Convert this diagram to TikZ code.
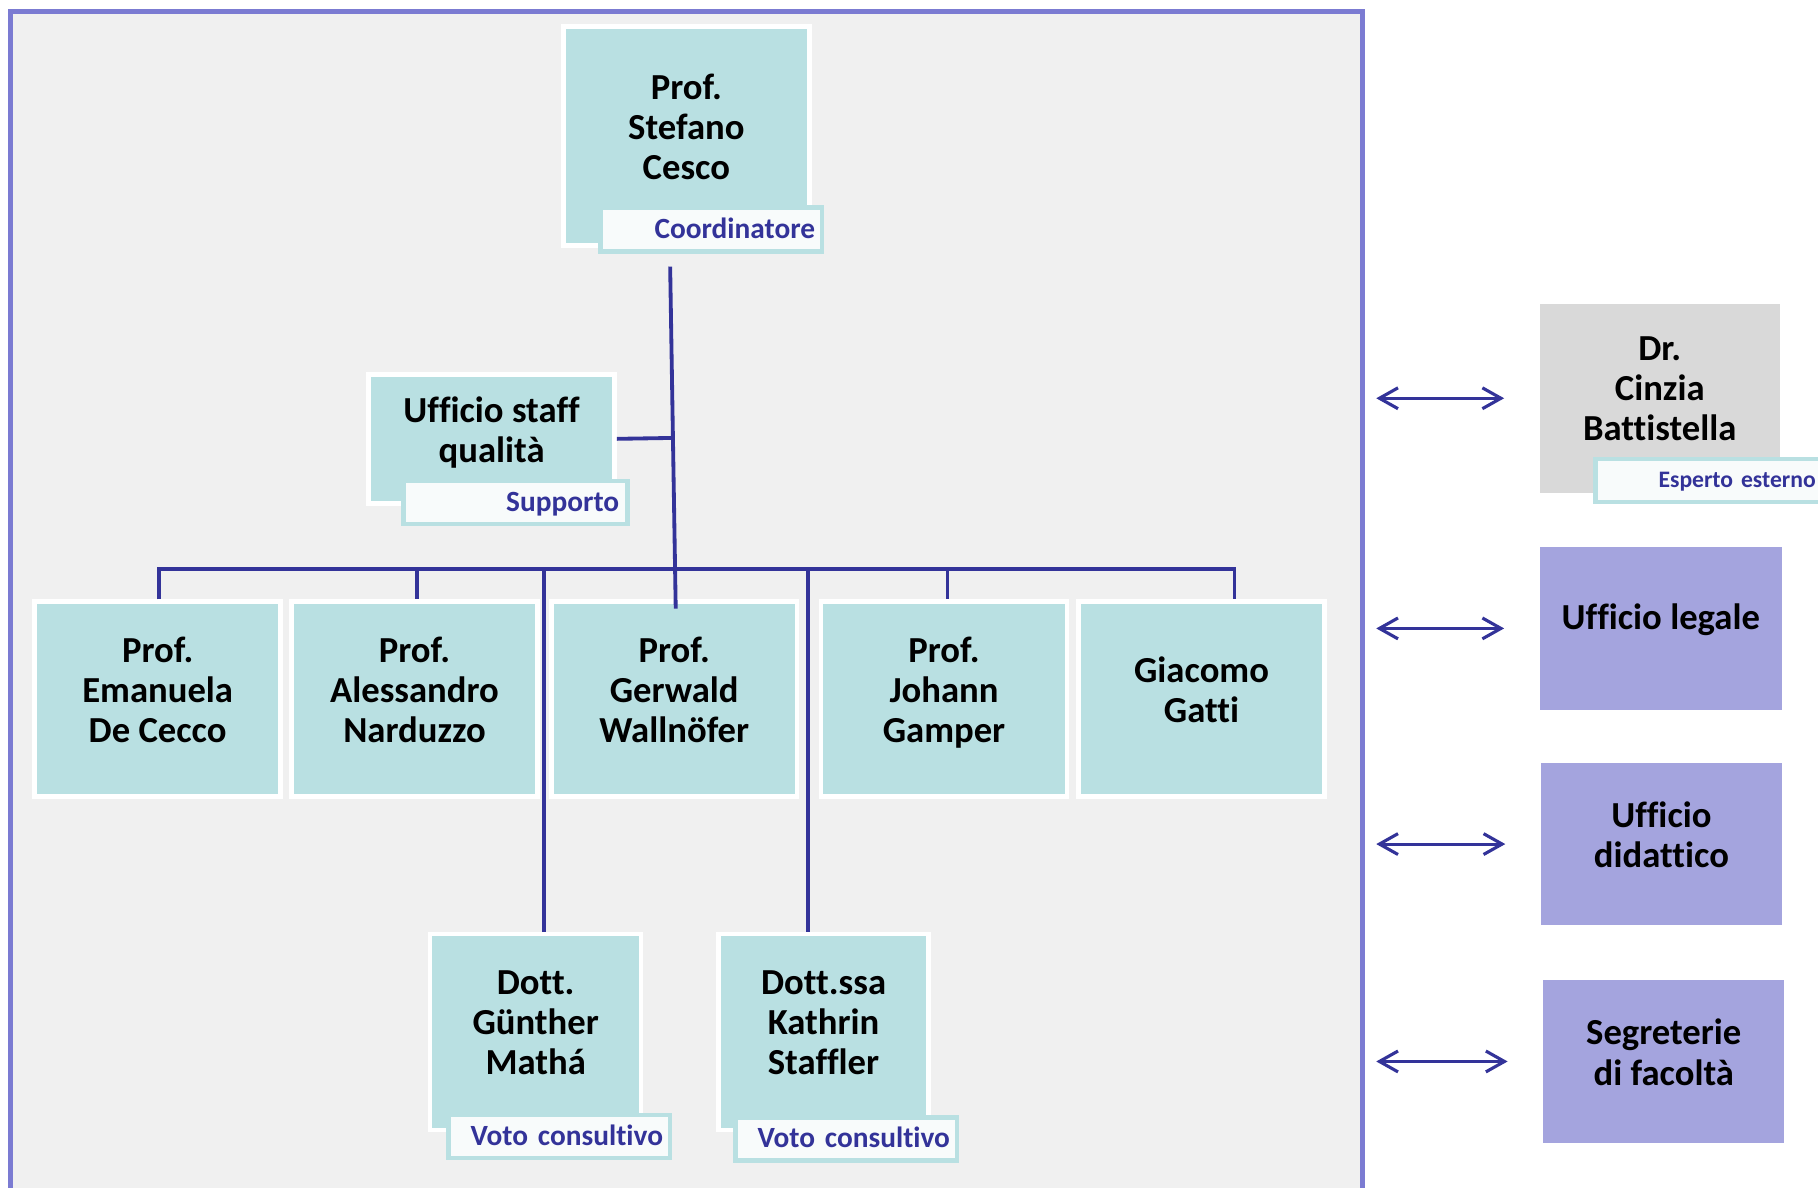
\documentclass[tikz,border=0pt]{standalone}
\usepackage{fontspec}
\setmainfont{Carlito}[Ligatures=NoCommon]
\usetikzlibrary{arrows.meta,calc}
\definecolor{boxteal}{HTML}{B9E0E2}
\definecolor{panelgray}{HTML}{F0F0F0}
\definecolor{framecol}{HTML}{7B7BD2}
\definecolor{linecol}{HTML}{333399}
\definecolor{extgray}{HTML}{D9D9D9}
\definecolor{extpurple}{HTML}{A4A4DE}
\definecolor{lblfill}{HTML}{F8FBFB}
\newcommand{\tbxend}{\rule[-\dimexpr0.26em+0.8mm\relax]{0pt}{\dimexpr0.26em+0.8mm\relax}}
\newcommand{\tbxendlow}{\rule[-\dimexpr0.26em+1.8mm\relax]{0pt}{\dimexpr0.26em+1.8mm\relax}}
\begin{document}
\begin{tikzpicture}[x=0.1mm, y=-0.1mm,
  boxtext/.style={rectangle, inner sep=0pt, align=center, text=black,
    font=\bfseries\fontsize{9}{9.87}\selectfont,
    execute at begin node={\rule{0pt}{0.9em}},
    execute at end node={\tbxend}},
  tbox/.style={boxtext, fill=boxteal, draw=white, line width=0.4mm},
  extbox/.style={boxtext, draw=none},
  lbl/.style={rectangle, fill=lblfill, draw=boxteal, line width=0.4mm,
    inner xsep=0.6mm, inner ysep=0pt, text width=17.9mm, align=right,
    minimum height=3.7mm, text=linecol,
    font=\bfseries\fontsize{7.2}{8}\selectfont,
    execute at begin node={\rule[-0.25em]{0pt}{1.1em}}},
  conn/.style={draw=linecol, line width=0.33mm},
  biarr/.style={draw=linecol, line width=0.27mm,
    {Straight Barb[length=1.6mm,width=1.8mm]}-{Straight Barb[length=1.6mm,width=1.8mm]}},
  frame/.style={draw=framecol, fill=panelgray, line width=0.42mm}]
\useasboundingbox (0,0) rectangle (1568,1024);
\fill[white] (0,0) rectangle (1568,1024);
% panel
\draw[frame] (9,10) rectangle (1175,1045);
\coordinate (frameR) at (1175,0);
% top
\node[tbox, minimum width=21.2mm, minimum height=18.9mm] (coord) at (592,117.5) {Prof.\\Stefano\\Cesco};
\node[lbl, minimum height=3.8mm] (coordL) at (613.5,198) {Coordinatore};
% staff
\node[tbox, minimum width=21.2mm, minimum height=11.1mm] (staff) at (424,378.5) {Ufficio staff\\qualità};
\node[lbl, inner xsep=0.7mm] (staffL) at (444.5,433.5) {Supporto};
% row
\node[tbox, minimum width=21.2mm, minimum height=16.8mm] (e1) at (136,603) {Prof.\\Emanuela\\De Cecco};
\node[tbox, minimum width=21.2mm, minimum height=16.8mm] (e2) at (357.5,603) {Prof.\\Alessandro\\Narduzzo};
\node[tbox, minimum width=21.2mm, minimum height=16.8mm] (e3) at (581.5,603) {Prof.\\Gerwald\\Wallnöfer};
\node[tbox, minimum width=21.2mm, minimum height=16.8mm] (e4) at (814.2,603) {Prof.\\Johann\\Gamper};
\node[tbox, minimum width=21.2mm, minimum height=16.8mm] (e5) at (1036.3,603) {Giacomo\\Gatti};
% bottom
\node[tbox, minimum width=18.2mm, minimum height=16.9mm] (g1) at (462,890) {Dott.\\Günther\\Mathá};
\node[lbl] (g1L) at (482.3,980.2) {Voto consultivo};
\node[tbox, minimum width=18.1mm, minimum height=16.9mm] (g2) at (710.3,890) {Dott.ssa\\Kathrin\\Staffler};
\node[lbl] (g2L) at (729.8,982.5) {Voto consultivo};
% external
\node[extbox, fill=extgray, minimum width=20.7mm, minimum height=16.3mm] (cinzia) at (1431.5,343.5) {Dr.\\Cinzia\\Battistella};
\node[lbl, text width=18.6mm, inner xsep=0.4mm, font=\bfseries\fontsize{5.8}{7}\selectfont] (cinziaL) at (1473,414.5) {Esperto esterno};
\node[extbox, fill=extpurple, minimum width=20.9mm, minimum height=14.0mm, execute at end node={\tbxendlow}] (legale) at (1432.5,542) {Ufficio legale};
\node[extbox, fill=extpurple, minimum width=20.8mm, minimum height=14.0mm] (didattico) at (1433,728) {Ufficio\\didattico};
\node[extbox, fill=extpurple, minimum width=20.8mm, minimum height=14.1mm] (segreterie) at (1435,915.5) {Segreterie\\di facoltà};
% connectors
\coordinate (trunkTop) at (578,230);
\coordinate (trunkBot) at ($(e3.north)+(1.3,8)$);
\coordinate (bar) at (0,491);
\coordinate (d1) at ([xshift=0.1mm]e1.north);
\coordinate (d2) at ([xshift=0.25mm]e2.north);
\coordinate (d4) at ([xshift=0.3mm]e4.north);
\coordinate (d5) at ([xshift=2.85mm]e5.north);
\coordinate (dg1) at ([xshift=0.7mm]g1.north);
\coordinate (dg2) at ([xshift=-1.33mm]g2.north);
\draw[conn] (trunkTop) -- (trunkBot);
\draw[conn] (staff.east) -- ($(trunkTop)!(staff.east)!(trunkBot)$);
\draw[conn] (d1) -- (d1 |- bar) -- (d5 |- bar) -- (d5);
\draw[conn] (d2 |- bar) -- (d2);
\draw[conn] (d4 |- bar) -- (d4);
\draw[conn] (dg1 |- bar) -- (dg1);
\draw[conn] (dg2 |- bar) -- (dg2);
% arrows
\draw[biarr, shorten <=1.2mm, shorten >=3mm] (frameR |- cinzia.west) -- (cinzia.west);
\draw[biarr, shorten <=1.2mm, shorten >=3mm] (frameR |- legale.west) -- (legale.west);
\draw[biarr, shorten <=1.2mm, shorten >=3mm] (frameR |- didattico.west) -- (didattico.west);
\draw[biarr, shorten <=1.2mm, shorten >=3mm] (frameR |- segreterie.west) -- (segreterie.west);
\end{tikzpicture}
\end{document}
